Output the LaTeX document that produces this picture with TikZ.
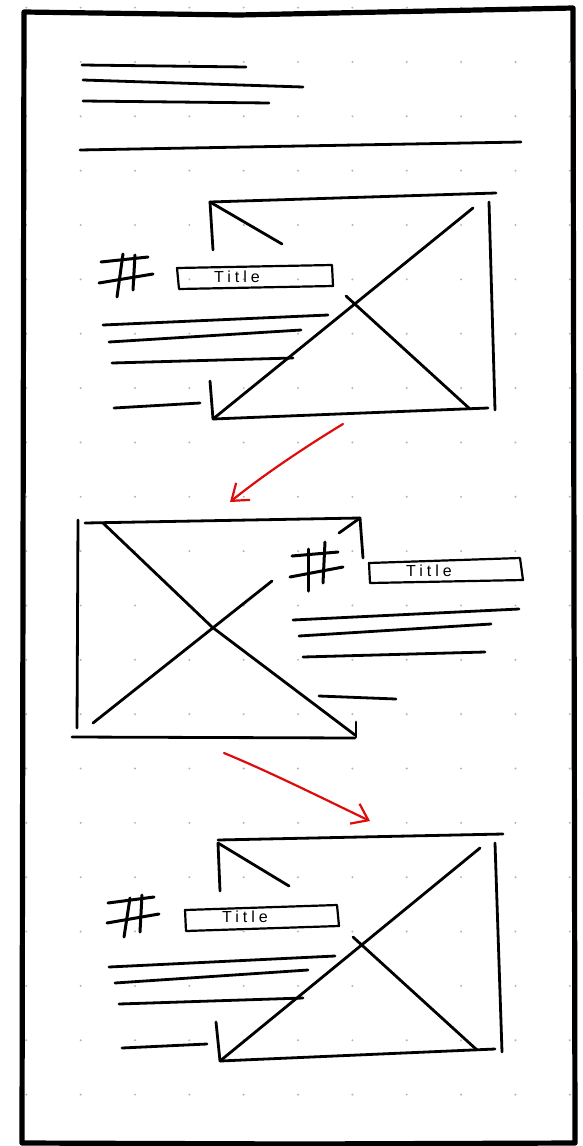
\documentclass[tikz,border=0pt]{standalone}
\usepackage{fontspec}
\newfontfamily\handfont[LetterSpace=25]{Liberation Sans}
\usetikzlibrary{arrows.meta}
\definecolor{sketchred}{RGB}{222,12,12}
\definecolor{dotgray}{RGB}{180,180,180}
\tikzset{
  ink/.style={line width=2.8pt, line cap=round, line join=round},
  hashline/.style={line width=3pt, line cap=round},
  frameline/.style={line width=5.2pt, line cap=round, line join=round},
  redarrow/.style={draw=sketchred, line width=2.2pt, line cap=round,
    -{Straight Barb[length=15pt,width=22pt,line width=2.2pt]}},
  titlebox/.style={line width=2.2pt, line join=round},
  titletext/.style={font=\handfont\fontsize{16}{16}\selectfont, inner sep=0pt},
}
\begin{document}
\begin{tikzpicture}[x=1pt,y=-1pt]
\useasboundingbox (0,0) rectangle (582,1146);
\fill[white] (0,0) rectangle (582,1146);
% dot grid
\foreach \i in {0,...,10}{\foreach \j in {0,...,20}{
  \fill[dotgray] ({26.3+54.35*\i},{7.6+54.35*\j}) circle (1.1);}}

% ---------- header ----------
\draw[ink] (82,65) -- (246,67);
\draw[ink] (83,80) -- (303,87);
\draw[ink] (83,101) -- (269,103);
\draw[ink] (80,150) -- (300,146) -- (521,142);

% ---------- section 1 ----------
\draw[ink] (210,202) -- (496,193);
\draw[ink] (210,202) -- (213,250);
\draw[ink] (210,202) -- (282,244);
\draw[ink] (489,202) -- (495,410);
\draw[ink] (210,381) -- (213,419) -- (488,408);
\draw[ink] (213,419) -- (473,208);
\draw[ink] (346,296) -- (470,409);
\draw[hashline] (123,254) -- (117,297);
\draw[hashline] (135,255) -- (133,290);
\draw[hashline] (101,262) -- (148,257);
\draw[hashline] (99,283) -- (153,274);
\draw[titlebox] (177,268) -- (332,265) -- (333,286) -- (179,289) -- cycle;
\node[titletext] (t1) at (237,277) {Title};
\draw[ink] (103,325) -- (328,315);
\draw[ink] (109,342) -- (301,330);
\draw[ink] (112,363) -- (293,358);
\draw[ink] (114,408) -- (200,403);

% arrow 1
\coordinate (a1s) at (343,424);
\coordinate (a1e) at (230,502);
\draw[redarrow] (a1s) .. controls (305,447) and (262,476) .. (a1e);

% ---------- section 2 ----------
\draw[ink] (85,523) -- (360,518);
\draw[ink] (78,520) -- (77,728);
\draw[ink] (72,737) -- (355,738);
\draw[ink] (360,518) -- (363,558);
\draw[ink] (339,533) -- (360,518);
\draw[ink] (356,722) -- (356,737);
\draw[ink] (103,523) -- (212,627) -- (355,735);
\draw[ink] (93,723) -- (272,581);
\draw[hashline] (308,549) -- (308,591);
\draw[hashline] (325,542) -- (323,583);
\draw[hashline] (292,556) -- (338,552);
\draw[hashline] (290,577) -- (343,567);
\draw[titlebox] (369,563) -- (520,558) -- (523,580) -- (370,583) -- cycle;
\node[titletext] (t2) at (429,571) {Title};
\draw[ink] (293,620) -- (519,609);
\draw[ink] (299,636) -- (491,624);
\draw[ink] (303,657) -- (485,652);
\draw[ink] (319,696) -- (396,699);

% arrow 2
\coordinate (a2s) at (224,753);
\coordinate (a2e) at (370,821);
\draw[redarrow] (a2s) .. controls (270,772) and (320,797) .. (a2e);

% ---------- section 3 ----------
\draw[ink] (218,840) -- (503,834);
\draw[ink] (218,843) -- (220,891);
\draw[ink] (218,843) -- (289,886);
\draw[ink] (495,843) -- (502,1052);
\draw[ink] (216,1022) -- (220,1061) -- (495,1049);
\draw[ink] (220,1061) -- (480,848);
\draw[ink] (353,937) -- (477,1050);
\draw[hashline] (108,903) -- (154,897);
\draw[hashline] (107,923) -- (159,914);
\draw[hashline] (130,898) -- (124,937);
\draw[hashline] (142,895) -- (140,932);
\draw[titlebox] (185,910) -- (337,905) -- (339,926) -- (186,931) -- cycle;
\node[titletext] (t3) at (245,917) {Title};
\draw[ink] (109,967) -- (335,956);
\draw[ink] (115,983) -- (308,970);
\draw[ink] (119,1004) -- (303,998);
\draw[ink] (122,1048) -- (207,1044);

% ---------- frame ----------
\draw[frameline] (24,12) -- (239,15) -- (573,8) -- (575,1143) -- (300,1144) -- (22,1143) -- cycle;
\end{tikzpicture}
\end{document}
